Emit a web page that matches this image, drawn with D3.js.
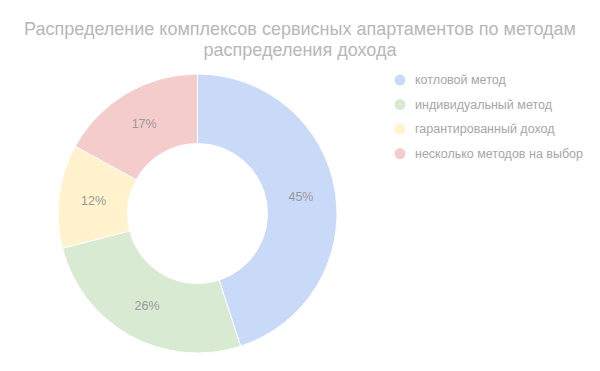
<!DOCTYPE html>
<html>
<head>
<meta charset="utf-8">
<script src="https://cdn.jsdelivr.net/npm/d3@7"></script>
<style>
  body { margin: 0; background: #fff; }
  svg { font-family: "Liberation Sans", Arial, sans-serif; }
</style>
</head>
<body>
<div class="chart"></div>
<script>
const categories = ["котловой метод", "индивидуальный метод", "гарантированный доход", "несколько методов на выбор"]
const values = [45, 26, 12, 17]
const colors = ["#c9daf8", "#d9ead3", "#fff2cc", "#f4cccc"]
const titleLines = ["Распределение комплексов сервисных апартаментов по методам", "распределения дохода"]

const width = 600
const height = 371
const cx = 197.5
const cy = 213.5
const outerR = 139.5
const innerR = 70

const svg = d3.select(".chart").append("svg")
  .attr("width", width)
  .attr("height", height)

// title
svg.append("g").selectAll("text")
  .data(titleLines)
  .enter()
  .append("text")
  .attr("x", width / 2)
  .attr("y", (d, i) => 35 + i * 21)
  .attr("text-anchor", "middle")
  .attr("font-size", "18px")
  .attr("fill", "#b7b7b7")
  .text(d => d)

const pie = d3.pie().sort(null).value(d => d)
const arcs = pie(values)
const arc = d3.arc().innerRadius(innerR).outerRadius(outerR)
const labelArc = d3.arc().innerRadius((innerR + outerR) / 2).outerRadius((innerR + outerR) / 2)
const total = d3.sum(values)

const g = svg.append("g").attr("transform", "translate(" + cx + "," + cy + ")")

g.selectAll("path")
  .data(arcs)
  .enter()
  .append("path")
  .attr("d", arc)
  .attr("fill", (d, i) => colors[i])
  .attr("stroke", "#fff")
  .attr("stroke-width", 1)

g.selectAll("text")
  .data(arcs)
  .enter()
  .append("text")
  .attr("transform", d => "translate(" + labelArc.centroid(d) + ")")
  .attr("text-anchor", "middle")
  .attr("dy", "0.35em")
  .attr("font-size", "12.5px")
  .attr("fill", "#999999")
  .text(d => Math.round(d.data / total * 100) + "%")

// legend
const legend = svg.append("g").selectAll("g")
  .data(categories)
  .enter()
  .append("g")
  .attr("transform", (d, i) => "translate(400," + (80 + i * 24.5) + ")")

legend.append("circle")
  .attr("r", 5.5)
  .attr("fill", (d, i) => colors[i])

legend.append("text")
  .attr("x", 15)
  .attr("dy", "0.35em")
  .attr("font-size", "12.5px")
  .attr("fill", "#a6a6a6")
  .text(d => d)
</script>
</body>
</html>
